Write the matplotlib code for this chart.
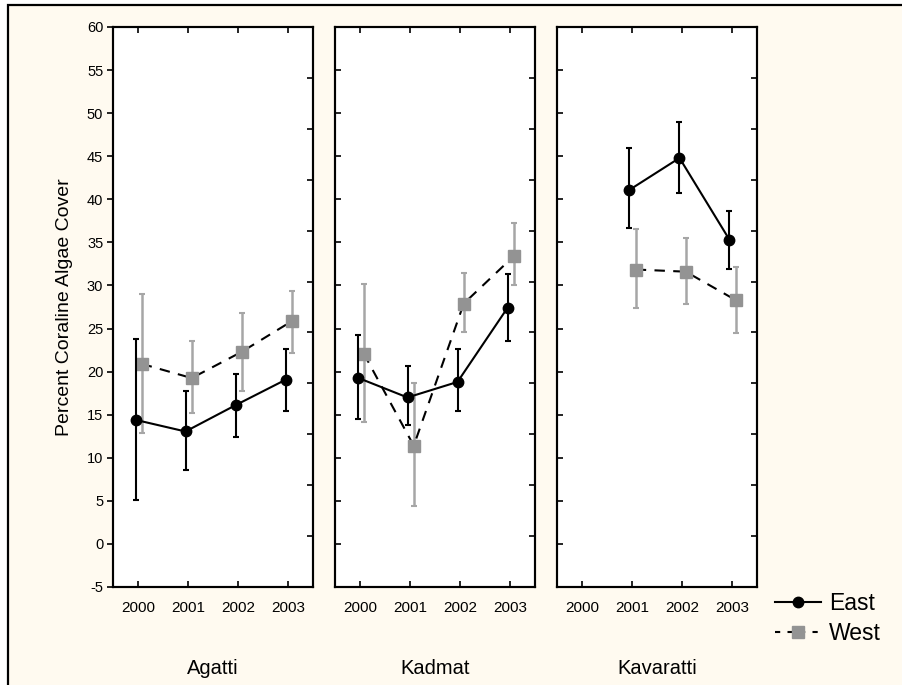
import numpy as np
import matplotlib
matplotlib.use('Agg')
import matplotlib.pyplot as plt
from matplotlib.lines import Line2D
from matplotlib.patches import Rectangle

plt.rcParams['font.family'] = ['Liberation Sans', 'DejaVu Sans']
plt.rcParams['axes.unicode_minus'] = False

years = ['2000', '2001', '2002', '2003']
sites = ['Agatti', 'Kadmat', 'Kavaratti']
nan = np.nan

# East side: mean with upper / lower error limits per site
east_mean = [[14.4, 13.05, 16.1, 19.05],
             [19.3, 17.0, 18.8, 27.4],
             [nan, 41.1, 44.8, 35.3]]
east_hi = [[23.8, 17.8, 19.7, 22.6],
           [24.3, 20.6, 22.6, 31.3],
           [nan, 45.9, 49.0, 38.7]]
east_lo = [[5.15, 8.6, 12.45, 15.45],
           [14.5, 13.8, 15.4, 23.6],
           [nan, 36.7, 40.7, 31.9]]

# West side
west_mean = [[20.9, 19.25, 22.3, 25.85],
             [22.1, 11.4, 27.9, 33.4],
             [nan, 31.85, 31.6, 28.3]]
west_hi = [[29.0, 23.6, 26.85, 29.4],
           [30.2, 18.7, 31.4, 37.2],
           [nan, 36.5, 35.5, 32.2]]
west_lo = [[12.9, 15.25, 17.8, 22.2],
           [14.1, 4.35, 24.6, 30.0],
           [nan, 27.4, 27.8, 24.5]]

W, H = 903, 685
fig = plt.figure(figsize=(W / 100, H / 100), dpi=100, facecolor='white')

# cream page with black border (right/bottom edges run off the page)
fig.patches.append(Rectangle((7.5 / W, -0.05), 1.2, 1 - 5.5 / H + 0.05,
                             transform=fig.transFigure, facecolor='#fffaf0',
                             edgecolor='black', linewidth=1.6, zorder=-10))

lefts = [113, 335, 557]
pw, top, bottom = 200, 27, 587
x = np.arange(len(years))
gray_mk = '#939393'
gray_eb = '#a6a6a6'

for i, site in enumerate(sites):
    ax = fig.add_axes([lefts[i] / W, (H - bottom) / H, pw / W, (bottom - top) / H])
    ax.set_facecolor('white')
    ax.set_xlim(-0.5, 3.5)
    ax.set_ylim(-5, 60)
    ax.set_yticks(np.arange(-5, 61, 5))
    ax.set_xticks(x)
    ax.set_xticklabels(years, fontsize=11)
    for s in ax.spines.values():
        s.set_linewidth(1.5)

    em, eh, el = map(np.array, (east_mean[i], east_hi[i], east_lo[i]))
    wm, wh, wl = map(np.array, (west_mean[i], west_hi[i], west_lo[i]))
    xe = x - 0.05
    xw = x + 0.075

    ax.errorbar(xw, wm, yerr=[wm - wl, wh - wm], fmt='none', ecolor=gray_eb,
                elinewidth=1.8, capsize=2.5, capthick=1.5, zorder=2)
    ax.plot(xw, wm, color='black', linestyle=(0, (5, 4)), linewidth=1.5, zorder=3)
    ax.plot(xw, wm, linestyle='none', marker='s', markersize=8,
            color=gray_mk, zorder=4)

    ax.errorbar(xe, em, yerr=[em - el, eh - em], fmt='none', ecolor='black',
                elinewidth=1.5, capsize=2.5, capthick=1.5, zorder=5)
    ax.plot(xe, em, color='black', linewidth=1.5, marker='o', markersize=7.5,
            zorder=6)

    ax.tick_params(axis='x', direction='in', top=True, length=4, width=1.2,
                   pad=10)
    if i == 0:
        ax.tick_params(axis='y', direction='out', length=4, width=1.2,
                       labelsize=10.5, pad=3)
        ax.set_ylabel('Percent Coraline Algae Cover', fontsize=14, labelpad=10)
    else:
        ax.tick_params(axis='y', direction='in', length=4, width=1.2,
                       labelleft=False)

    # secondary right-hand scale (unlabelled)
    ax2 = ax.twinx()
    ax2.set_ylim(0, 11)
    ax2.set_yticks(np.arange(1, 11))
    ax2.tick_params(axis='y', direction='in', length=4, width=1.2,
                    labelright=False)
    for s in ax2.spines.values():
        s.set_linewidth(1.5)

    fig.text((lefts[i] + pw / 2) / W, 1 - 668 / H, site, ha='center',
             va='center', fontsize=14.5)

handles = [Line2D([], [], color='black', linewidth=1.5, marker='o', markersize=7.5),
           Line2D([], [], color='black', linestyle=(0, (2.5, 3.5)), linewidth=1.5,
                  marker='s', markersize=8, markerfacecolor=gray_mk,
                  markeredgecolor=gray_mk)]
fig.legend(handles, ['East', 'West'], loc='upper left',
           bbox_to_anchor=(766 / W, 1 - 583 / H), frameon=False, fontsize=16.5,
           handlelength=2.0, handletextpad=0.35, labelspacing=0.3,
           borderaxespad=0)

fig.savefig('out.png', dpi=100, facecolor=fig.get_facecolor())
